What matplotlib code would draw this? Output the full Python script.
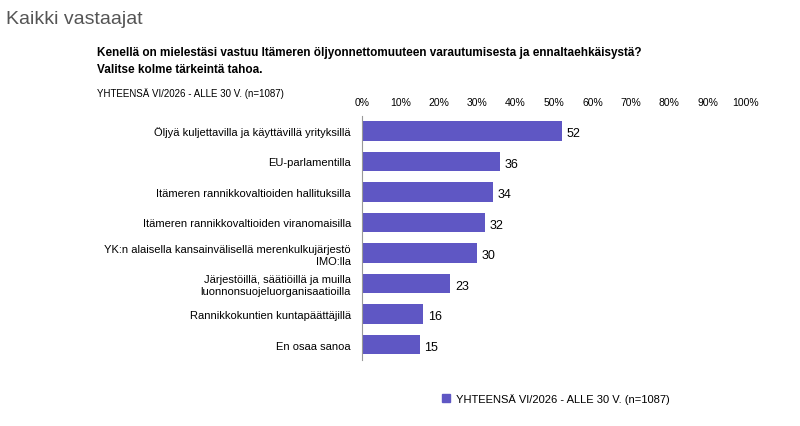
import matplotlib.pyplot as plt
import matplotlib.ticker as mtick
from matplotlib.patches import Patch

# data
categories = ['Öljyä kuljettavilla ja käyttävillä yrityksillä',
              'EU-parlamentilla',
              'Itämeren rannikkovaltioiden hallituksilla',
              'Itämeren rannikkovaltioiden viranomaisilla',
              'YK:n alaisella kansainvälisellä merenkulkujärjestö\nIMO:lla',
              'Järjestöillä, säätiöillä ja muilla\nluonnonsuojeluorganisaatioilla',
              'Rannikkokuntien kuntapäättäjillä',
              'En osaa sanoa']
values = [52, 36, 34, 32, 30, 23, 16, 15]
series_name = 'YHTEENSÄ VI/2026 - ALLE 30 V. (n=1087)'
colour = '#5F57C4'

plt.rcParams['font.family'] = ['Liberation Sans', 'DejaVu Sans']

fig = plt.figure(figsize=[8, 4.27], dpi=100)
ax = fig.add_axes([0.4525, 0.155, 0.48, 0.572])

y = list(range(len(categories)))
ax.barh(y, values, height=0.64, color=colour)
for yi, v in zip(y, values):
    ax.text(v + 1.2, yi + 0.08, str(v), va='center', ha='left', fontsize=9)

ax.set_ylim(len(categories) - 0.5, -0.5)
ax.set_xlim(0, 100)
ax.set_xticks(range(0, 101, 10))
ax.xaxis.set_major_formatter(mtick.FormatStrFormatter('%.0f%%'))
ax.xaxis.tick_top()
ax.tick_params(axis='x', length=0, labelsize=7.5, pad=6)
ax.set_yticks(y)
ax.set_yticklabels(categories, fontsize=8)
ax.tick_params(axis='y', length=0, pad=8)
for s in ['top', 'right', 'bottom']:
    ax.spines[s].set_visible(False)
ax.spines['left'].set_color('#999999')

fig.text(0.008, 0.955, 'Kaikki vastaajat', fontsize=14, color='#555555', va='center')
fig.text(0.121, 0.876, 'Kenellä on mielestäsi vastuu Itämeren öljyonnettomuuteen varautumisesta ja ennaltaehkäisystä?',
         fontsize=8.5, fontweight='bold', va='center')
fig.text(0.121, 0.836, 'Valitse kolme tärkeintä tahoa.', fontsize=8.5, fontweight='bold', va='center')
fig.text(0.121, 0.782, 'YHTEENSÄ VI/2026 - ALLE 30 V. (n=1087)', fontsize=7, va='center')

fig.legend(handles=[Patch(color=colour, label=series_name)], loc='center',
           bbox_to_anchor=(0.695, 0.065), frameon=False, fontsize=8,
           handlelength=0.7, handleheight=0.7, handletextpad=0.5)

fig.savefig('out.png', dpi=100)
